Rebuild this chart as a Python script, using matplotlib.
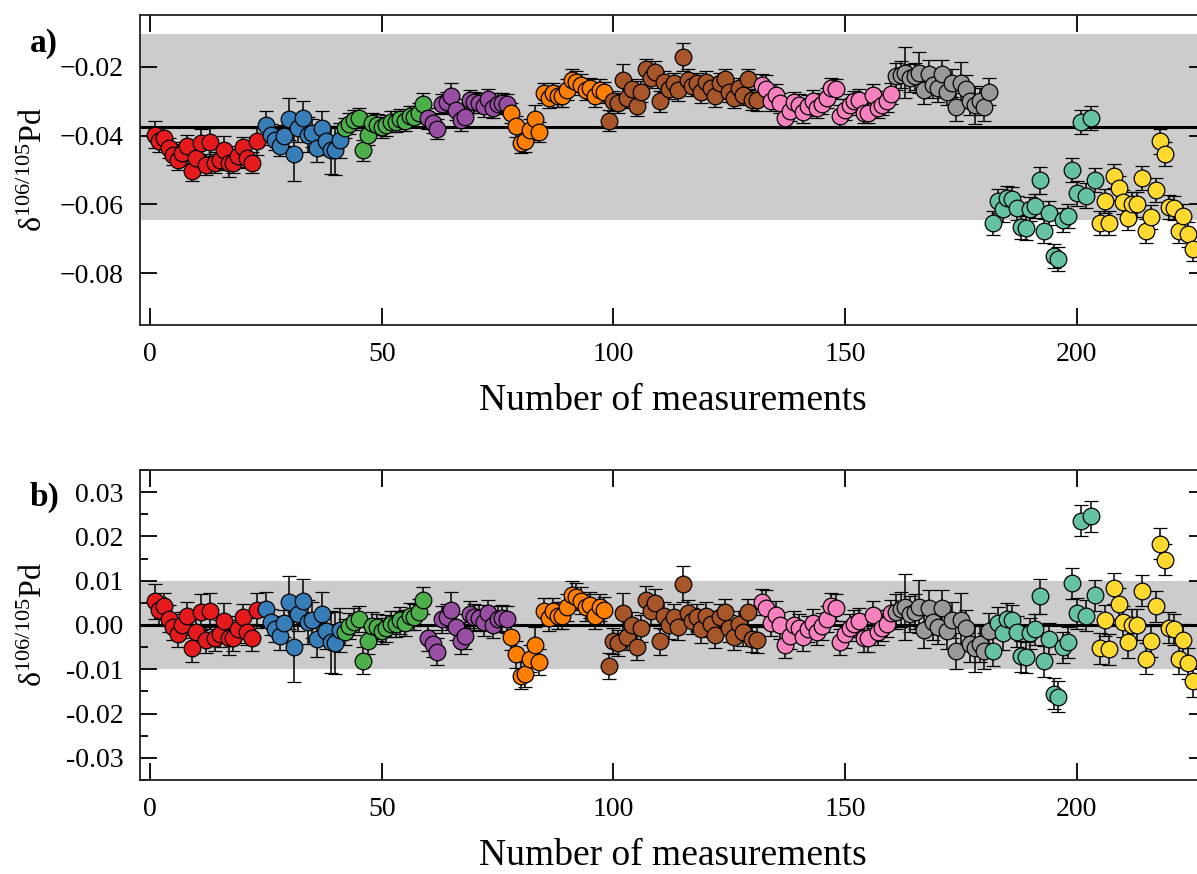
import numpy as np
import matplotlib
matplotlib.use('Agg')
import matplotlib.pyplot as plt
from matplotlib.ticker import MultipleLocator

plt.rcParams['font.family'] = ['Liberation Serif', 'DejaVu Serif']
plt.rcParams['mathtext.fontset'] = 'custom'
plt.rcParams['mathtext.rm'] = 'Liberation Serif'
plt.rcParams['mathtext.it'] = 'Liberation Serif:italic'

# session colours and the number of the first measurement in each session
colors = ['#e41a1c', '#377eb8', '#4daf4a', '#984ea3', '#ff7f00',
          '#a65628', '#f781bf', '#999999', '#66c2a5', '#ffd92f']
first_meas = [1, 25, 42, 60, 78, 99, 132, 161, 182, 205]

# raw delta 106/105 Pd per session
red = [-0.0397, -0.0417, -0.0407, -0.0436, -0.0455, -0.0470, -0.0450, -0.0429,
       -0.0503, -0.0465, -0.0421, -0.0484, -0.0419, -0.0479, -0.0470, -0.0441,
       -0.0479, -0.0479, -0.0460, -0.0433, -0.0465, -0.0479, -0.0417]
blue = [-0.0368, -0.0397, -0.0412, -0.0429, -0.0400, -0.0352, -0.0453, -0.0378,
        -0.0349, -0.0397, -0.0392, -0.0436, -0.0378, -0.0417, -0.0441, -0.0443,
        -0.0414]
green = [-0.0378, -0.0365, -0.0355, -0.0349, -0.0443, -0.0398, -0.0364, -0.0368,
         -0.0376, -0.0370, -0.0360, -0.0360, -0.0352, -0.0358, -0.0343, -0.0345,
         -0.0334, -0.0307]
purple = [-0.0350, -0.0363, -0.0381, -0.0308, -0.0303, -0.0286, -0.0325, -0.0356,
          -0.0345, -0.0297, -0.0303, -0.0305, -0.0315, -0.0294, -0.0320, -0.0307,
          -0.0305, -0.0308]
orange = [-0.0334, -0.0373, -0.0421, -0.0417, -0.0383, -0.0352, -0.0390, -0.0276,
          -0.0291, -0.0276, -0.0286, -0.0286, -0.0267, -0.0238, -0.0243, -0.0252,
          -0.0267, -0.0262, -0.0286, -0.0267, -0.0274]
brown = [-0.0357, -0.0300, -0.0305, -0.0238, -0.0291, -0.0265, -0.0313, -0.0272,
         -0.0207, -0.0233, -0.0214, -0.0301, -0.0243, -0.0265, -0.0247, -0.0269,
         -0.0172, -0.0238, -0.0255, -0.0247, -0.0274, -0.0243, -0.0262, -0.0286,
         -0.0247, -0.0236, -0.0272, -0.0291, -0.0262, -0.0281, -0.0236, -0.0296,
         -0.0298]
pink = [-0.0252, -0.0265, -0.0300, -0.0281, -0.0305, -0.0349, -0.0329, -0.0303,
        -0.0310, -0.0332, -0.0313, -0.0299, -0.0320, -0.0307, -0.0291, -0.0262,
        -0.0265, -0.0342, -0.0325, -0.0310, -0.0301, -0.0296, -0.0334, -0.0334,
        -0.0281, -0.0320, -0.0310, -0.0301, -0.0278]
gray = [-0.0228, -0.0223, -0.0218, -0.0233, -0.0228, -0.0217, -0.0269, -0.0220,
        -0.0252, -0.0262, -0.0220, -0.0272, -0.0247, -0.0317, -0.0247, -0.0265,
        -0.0301, -0.0310, -0.0301, -0.0317, -0.0272]
teal = [-0.0653, -0.0590, -0.0612, -0.0581, -0.0584, -0.0610, -0.0665, -0.0668,
        -0.0613, -0.0605, -0.0530, -0.0677, -0.0626, -0.0750, -0.0757, -0.0645,
        -0.0634, -0.0501, -0.0568, -0.0360, -0.0574, -0.0349, -0.0528]
yellow = [-0.0653, -0.0590, -0.0655, -0.0518, -0.0552, -0.0593, -0.0639, -0.0600,
          -0.0600, -0.0523, -0.0677, -0.0637, -0.0558, -0.0417, -0.0453, -0.0607,
          -0.0610, -0.0677, -0.0634, -0.0687, -0.0728]

# 2SE uncertainties
red_err = [0.004, 0.003, 0.003, 0.003, 0.003, 0.003, 0.003, 0.003, 0.003, 0.003,
           0.004, 0.003, 0.004, 0.003, 0.003, 0.004, 0.004, 0.003, 0.003, 0.003,
           0.003, 0.003, 0.004]
blue_err = [0.004, 0.003, 0.003, 0.003, 0.003, 0.006, 0.008, 0.004, 0.005, 0.005,
            0.004, 0.004, 0.005, 0.004, 0.007, 0.007, 0.005]
green_err = [0.003, 0.003, 0.003, 0.003, 0.003, 0.003, 0.003, 0.003, 0.003, 0.003,
             0.003, 0.003, 0.003, 0.003, 0.003, 0.003, 0.003, 0.003]
purple_err = [0.003, 0.003, 0.003, 0.003, 0.003, 0.004, 0.003, 0.003, 0.003, 0.003,
              0.003, 0.003, 0.003, 0.003, 0.003, 0.003, 0.003, 0.003]
orange_err = [0.003, 0.003, 0.003, 0.003, 0.003, 0.004, 0.003, 0.003, 0.003, 0.003,
              0.003, 0.003, 0.003, 0.003, 0.003, 0.003, 0.003, 0.003, 0.003, 0.003,
              0.003]
brown_err = [0.003, 0.003, 0.003, 0.0045, 0.003, 0.003, 0.003, 0.003, 0.003, 0.003,
             0.003, 0.003, 0.003, 0.003, 0.003, 0.003, 0.004, 0.003, 0.003, 0.003,
             0.003, 0.003, 0.003, 0.003, 0.003, 0.003, 0.003, 0.003, 0.003, 0.003,
             0.003, 0.003, 0.003]
pink_err = [0.003, 0.004, 0.003, 0.003, 0.003, 0.003, 0.003, 0.003, 0.003, 0.003,
            0.003, 0.003, 0.003, 0.003, 0.003, 0.003, 0.003, 0.003, 0.003, 0.003,
            0.003, 0.003, 0.003, 0.003, 0.003, 0.003, 0.003, 0.003, 0.003]
gray_err = [0.004, 0.004, 0.0074, 0.004, 0.004, 0.006, 0.004, 0.004, 0.004, 0.004,
            0.004, 0.004, 0.004, 0.004, 0.006, 0.004, 0.004, 0.0055, 0.004, 0.004,
            0.004]
teal_err = [0.0035, 0.0035, 0.004, 0.0035, 0.0035, 0.0035, 0.0035, 0.0035, 0.0035,
            0.0035, 0.004, 0.0035, 0.0035, 0.0035, 0.0035, 0.0035, 0.0035, 0.0035,
            0.0035, 0.0035, 0.0035, 0.0035, 0.0035]
yellow_err = [0.0035, 0.0035, 0.0035, 0.0035, 0.0035, 0.0035, 0.0035, 0.0035,
              0.0035, 0.0035, 0.0035, 0.0035, 0.0035, 0.0035, 0.0035, 0.0035,
              0.0035, 0.0035, 0.0035, 0.0035, 0.0035]

sessions = [red, blue, green, purple, orange, brown, pink, gray, teal, yellow]
errors = [red_err, blue_err, green_err, purple_err, orange_err,
          brown_err, pink_err, gray_err, teal_err, yellow_err]

# long-term mean and 2SD of the raw values; +-0.01 band after session normalisation
ref_mean = -0.0374
ref_2sd = 0.027
norm_2sd = 0.010

fig = plt.figure(figsize=(11.97, 8.74), dpi=100)
ax1 = fig.add_axes([0.117, 0.6281, 0.8906, 0.3547])
ax2 = fig.add_axes([0.117, 0.1076, 0.8906, 0.3547])

for ax in (ax1, ax2):
    ax.set_xlim(-2.16, 227.9)
    ax.xaxis.set_major_locator(MultipleLocator(50))
    ax.tick_params(which='both', direction='in', top=True, right=True,
                   labelsize=20, width=1.3, pad=12)
    ax.tick_params(which='major', length=12)
    ax.tick_params(which='minor', length=6)
    for s in ax.spines.values():
        s.set_linewidth(1.3)
        s.set_color('#222222')
    ax.set_xlabel('Number of measurements', fontsize=27, labelpad=12)
    ax.set_ylabel('δ$^{106/105}$Pd', fontsize=23)
    ax.yaxis.set_label_coords(-0.085, 0.5)

# a) raw values
ax1.set_ylim(-0.095, -0.005)
ax1.yaxis.set_major_locator(MultipleLocator(0.02))
ax1.axhspan(ref_mean - ref_2sd, ref_mean + ref_2sd, color='#cccccc', lw=0, zorder=0)
ax1.axhline(ref_mean, color='black', lw=2.2, zorder=1)

# b) values normalised to the mean of each session
ax2.set_ylim(-0.035, 0.035)
ax2.set_yticks([-0.03, -0.02, -0.01, 0.0, 0.01, 0.02, 0.03])
ax2.set_yticklabels(['-0.03', '-0.02', '-0.01', '0.00', '0.01', '0.02', '0.03'])
ax2.yaxis.set_minor_locator(MultipleLocator(0.005))
ax2.axhspan(-norm_2sd, norm_2sd, color='#cccccc', lw=0, zorder=0)
ax2.axhline(0, color='black', lw=2.2, zorder=1)

for vals, errs, col, start in zip(sessions, errors, colors, first_meas):
    vals = np.array(vals)
    x = np.arange(start, start + len(vals))
    style = dict(fmt='o', ms=12, mfc=col, mec='black', mew=0.9,
                 ecolor='black', elinewidth=1.1, capsize=5, capthick=1.1, zorder=3)
    ax1.errorbar(x, vals, yerr=errs, **style)
    ax2.errorbar(x, vals - vals.mean(), yerr=errs, **style)

fig.text(0.025, 0.95, 'a)', fontsize=24, fontweight='bold', va='center')
fig.text(0.025, 0.431, 'b)', fontsize=24, fontweight='bold', va='center')

fig.savefig('out.png', dpi=100)
